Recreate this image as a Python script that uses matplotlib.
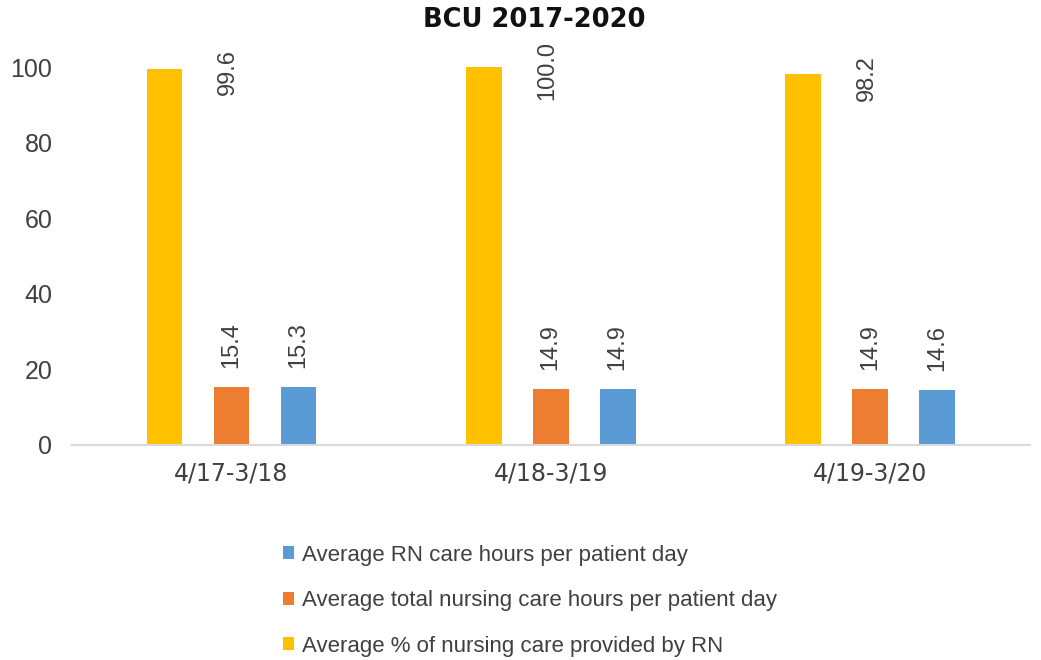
import matplotlib.pyplot as plt
import numpy as np

periods = ["4/17-3/18", "4/18-3/19", "4/19-3/20"]
pct_rn = [99.6, 100.0, 98.2]
total_hours = [15.4, 14.9, 14.9]
rn_hours = [15.3, 14.9, 14.6]

plt.rcParams["font.family"] = ["Liberation Sans", "DejaVu Sans"]

fig = plt.figure(figsize=(10.41, 6.6), dpi=100)
ax = fig.add_axes([0.069, 0.326, 0.92, 0.601])

x = np.arange(len(periods))
w = 0.112
off = 0.21
b_pct = ax.bar(x - off, pct_rn, w, color="#FFC000", label="Average % of nursing care provided by RN")
b_tot = ax.bar(x, total_hours, w, color="#ED7D31", label="Average total nursing care hours per patient day")
b_rn = ax.bar(x + off, rn_hours, w, color="#5B9BD5", label="Average RN care hours per patient day")

# the big % labels sit beside their bar, near its top
for xi, v in zip(x, pct_rn):
    ax.text(xi - 0.01, v - 1, f"{v:.1f}", rotation=90, ha="center", va="center",
            fontsize=17, color="#404040", clip_on=False)
for xs, vals in ((x, total_hours), (x + off, rn_hours)):
    for xi, v in zip(xs, vals):
        ax.text(xi, v + 5, f"{v:.1f}", rotation=90, ha="center", va="bottom",
                fontsize=17, color="#404040")

ax.set_xlim(-0.5, 2.5)
ax.set_ylim(0, 105)
ax.set_yticks([0, 20, 40, 60, 80, 100])
ax.set_xticks(x)
ax.set_xticklabels(periods, fontfamily="DejaVu Sans")
ax.tick_params(axis="y", length=0, pad=14, labelsize=18, labelcolor="#404040")
ax.tick_params(axis="x", length=0, pad=12, labelsize=17, labelcolor="#404040")
for s in ("top", "right", "left"):
    ax.spines[s].set_visible(False)
ax.spines["bottom"].set_color("#D9D9D9")
ax.spines["bottom"].set_linewidth(1.5)

fig.suptitle("BCU 2017-2020", x=0.513, y=0.99, fontsize=18.5, fontweight="bold",
             fontfamily="DejaVu Sans", color="#111111")

handles = [b_rn, b_tot, b_pct]
fig.legend(handles, [h.get_label() for h in handles], loc="upper center",
           bbox_to_anchor=(0.509, 0.205), ncol=1, frameon=False, fontsize=16,
           handlelength=0.5, handleheight=0.5, handletextpad=0.35, labelspacing=1.1,
           labelcolor="#404040")

fig.savefig("out.png", dpi=100)
